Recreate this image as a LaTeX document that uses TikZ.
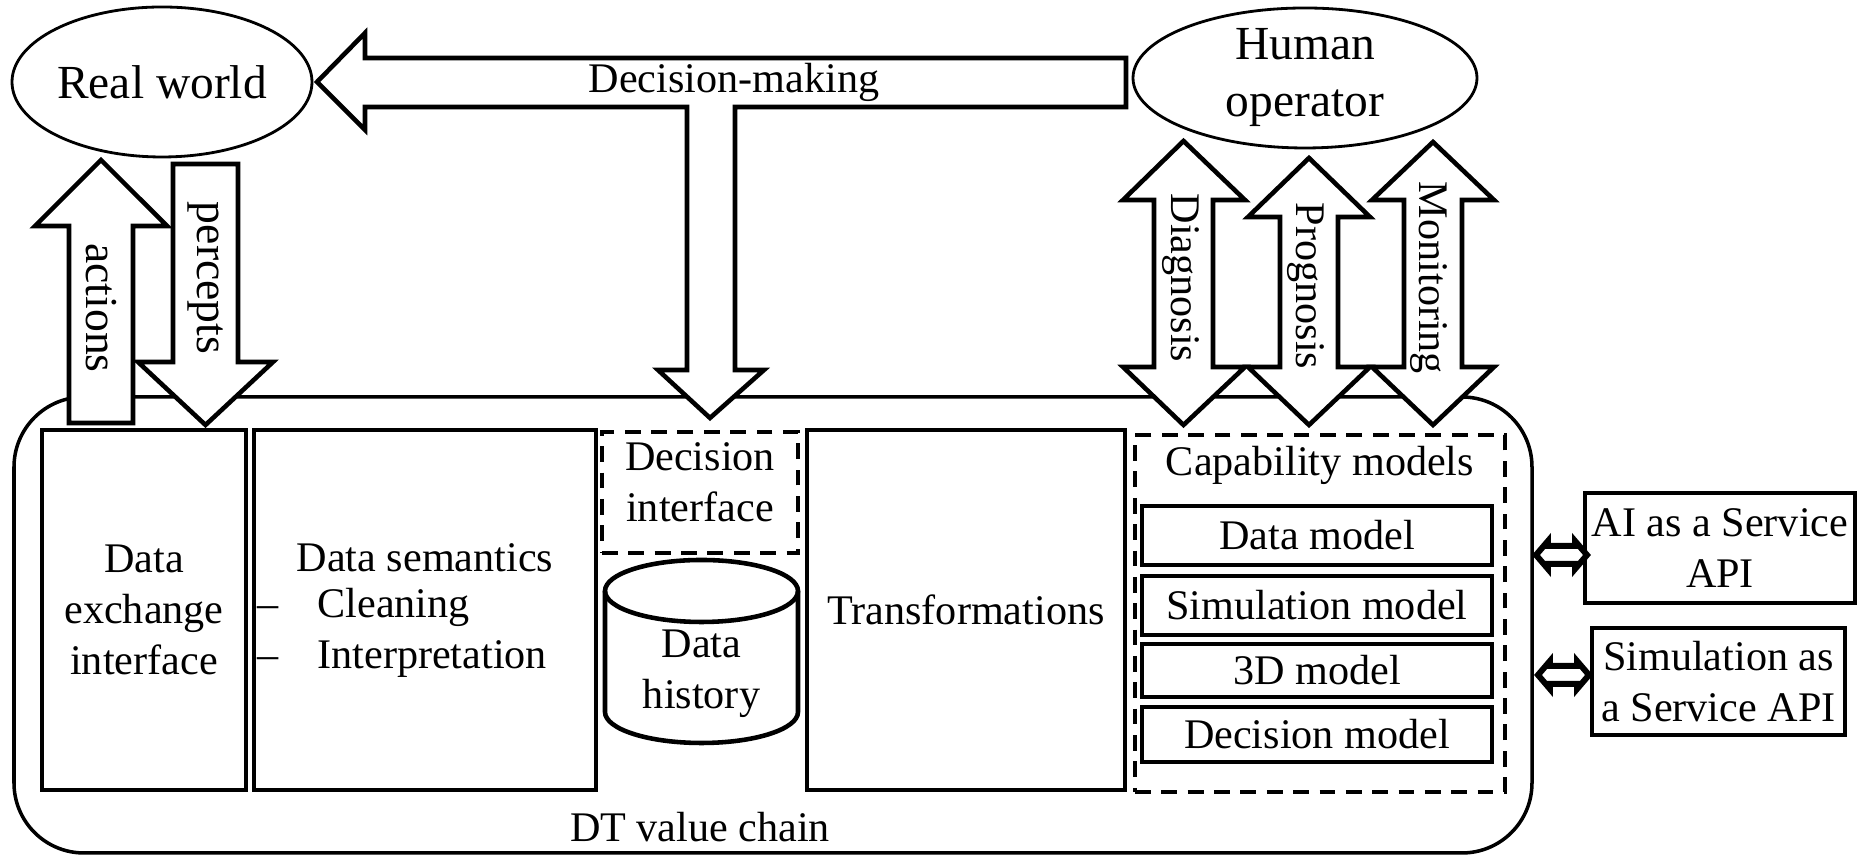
\documentclass[tikz,border=0pt]{standalone}
\usepackage{fontspec}
\setmainfont{Liberation Serif}[Ligatures=TeX]
\usetikzlibrary{shapes.geometric, positioning, calc}

\tikzset{
  box/.style={draw, line width=1.3pt, rectangle, inner sep=0pt},
  dbox/.style={draw, line width=1.2pt, dash pattern=on 4.5pt off 3pt, rectangle, inner sep=0pt},
  blk/.style={draw, line width=1.3pt, fill=white, line join=miter},
  txt/.style={font=\rmfamily\fontsize{12}{14.4}\selectfont, align=center, inner sep=0pt},
  vtxt/.style={txt, rotate=-90},
  ent/.style={draw, ellipse, line width=0.8pt, inner sep=0pt, align=center,
    font=\rmfamily\fontsize{13.5}{16.2}\selectfont},
}

\begin{document}
\begin{tikzpicture}
\useasboundingbox (0,0) rectangle (18.58,8.58);

% the value chain frame
\node[draw, line width=1pt, rounded corners=0.7cm, minimum width=15.18cm, minimum height=4.56cm] (chain) at (7.73,2.33) {};
\node[txt] (chainlbl) at (7.00,0.31) {DT value chain};

% stages
\node[box, txt, minimum width=2.04cm, minimum height=3.6cm] (exch) at (1.44,2.48) {Data\\exchange\\interface};
\node[box, minimum width=3.42cm, minimum height=3.6cm] (sem) at (4.25,2.48) {};
\node[txt] (semtitle) at (4.25,3.0) {Data semantics};
\node[txt, align=left, anchor=west] (semlist) at (2.57,2.25) {\textendash\hspace{11pt}Cleaning\\\textendash\hspace{11pt}Interpretation};

\node[dbox, minimum width=1.96cm, minimum height=1.21cm] (decif) at (7.00,3.655) {};
\node[txt] (deciflbl) at (7.00,3.76) {Decision\\interface};

% data history drum
\draw[line width=1.3pt, fill=white] (6.05,2.67) -- (6.05,1.46)
  arc[start angle=180, end angle=360, x radius=0.965cm, y radius=0.31cm] -- (7.98,2.67);
\draw[line width=1.3pt] (7.015,2.67) ellipse [x radius=0.965cm, y radius=0.31cm];
\node[txt] (hist) at (7.015,1.84) {Data\\history};

\node[box, txt, minimum width=3.18cm, minimum height=3.6cm] (transf) at (9.66,2.48) {Transformations};

% capability models
\node[dbox, minimum width=3.70cm, minimum height=3.57cm] (cap) at (13.20,2.445) {};
\node[txt] (captitle) at (13.20,3.93) {Capability models};
\node[box, txt, minimum width=3.5cm, minimum height=0.59cm] (datam) at (13.17,3.225) {Data model};
\node[box, txt, minimum width=3.5cm, minimum height=0.59cm] (simm) at (13.17,2.525) {Simulation model};
\node[box, txt, minimum width=3.5cm, minimum height=0.53cm] (threedm) at (13.17,1.875) {3D model};
\node[box, txt, minimum width=3.5cm, minimum height=0.55cm] (decm) at (13.17,1.235) {Decision model};

% external services
\node[box, txt, minimum width=2.70cm, minimum height=1.10cm] (aiapi) at (17.20,3.10) {AI as a Service\\API};
\node[box, txt, minimum width=2.53cm, minimum height=1.07cm] (simapi) at (17.185,1.765) {Simulation as\\a Service API};

\draw[blk, line width=1.7pt] (15.36,3.03) -- (15.48,3.17) -- (15.48,3.12) -- (15.75,3.12) -- (15.75,3.17) -- (15.87,3.03)
  -- (15.75,2.89) -- (15.75,2.94) -- (15.48,2.94) -- (15.48,2.89) -- cycle;
\draw[blk, line width=1.7pt] (15.38,1.83) -- (15.50,1.97) -- (15.50,1.92) -- (15.77,1.92) -- (15.77,1.97) -- (15.89,1.83)
  -- (15.77,1.69) -- (15.77,1.74) -- (15.50,1.74) -- (15.50,1.69) -- cycle;

% actions / percepts
\draw[blk] (0.69,4.35) -- (0.69,6.32) -- (0.35,6.32) -- (1.01,6.98) -- (1.67,6.32) -- (1.33,6.32) -- (1.33,4.35) -- cycle;
\draw[blk] (1.73,6.94) -- (2.38,6.94) -- (2.38,4.96) -- (2.73,4.96) -- (2.055,4.33) -- (1.38,4.96) -- (1.73,4.96) -- cycle;
\node[vtxt, font=\rmfamily\fontsize{13}{15}\selectfont] (actlbl) at (1.01,5.50) {actions};
\node[vtxt, font=\rmfamily\fontsize{13}{15}\selectfont] (perclbl) at (2.05,5.80) {percepts};

% decision-making
\draw[blk] (3.17,7.76) -- (3.65,8.25) -- (3.65,8.00) -- (11.26,8.00) -- (11.26,7.51) -- (7.35,7.51) -- (7.35,4.88)
  -- (7.64,4.88) -- (7.10,4.40) -- (6.58,4.88) -- (6.87,4.88) -- (6.87,7.51) -- (3.65,7.51) -- (3.65,7.28) -- cycle;
\node[txt] (declbl) at (7.34,7.76) {Decision-making};

% diagnosis, prognosis, monitoring
\draw[blk] (11.835,7.17) -- (12.45,6.58) -- (12.13,6.58) -- (12.13,4.91) -- (12.45,4.91) -- (11.835,4.33)
  -- (11.23,4.91) -- (11.54,4.91) -- (11.54,6.58) -- (11.23,6.58) -- cycle;
\draw[blk] (13.09,7.00) -- (13.70,6.41) -- (13.38,6.41) -- (13.38,4.91) -- (13.70,4.91) -- (13.09,4.33)
  -- (12.48,4.91) -- (12.80,4.91) -- (12.80,6.41) -- (12.48,6.41) -- cycle;
\draw[blk] (14.33,7.16) -- (14.94,6.58) -- (14.62,6.58) -- (14.62,4.91) -- (14.94,4.91) -- (14.33,4.33)
  -- (13.72,4.91) -- (14.04,4.91) -- (14.04,6.58) -- (13.72,6.58) -- cycle;
\node[vtxt] (diaglbl) at (11.81,5.80) {Diagnosis};
\node[vtxt] (proglbl) at (13.06,5.72) {Prognosis};
\node[vtxt] (monlbl) at (14.29,5.80) {Monitoring};

% actors
\node[ent, minimum width=3.0cm, minimum height=1.5cm] (world) at (1.62,7.76) {Real world};
\node[ent, minimum width=3.44cm, minimum height=1.40cm] (human) at (13.05,7.80) {Human\\operator};

\end{tikzpicture}
\end{document}
